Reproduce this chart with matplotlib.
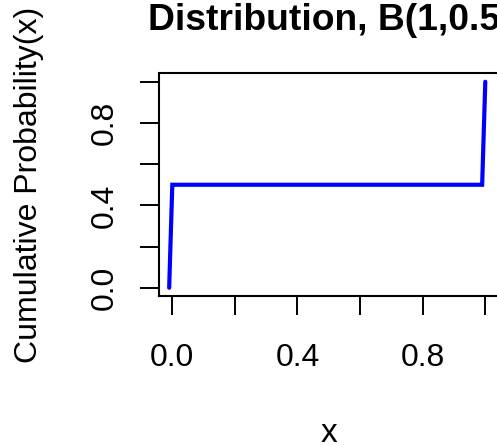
import matplotlib
matplotlib.use("Agg")
import matplotlib.pyplot as plt

x = [-0.01, 0.0, 0.99, 1.0]
y = [0.0, 0.5, 0.5, 1.0]
xticks = [0.0, 0.2, 0.4, 0.6, 0.8, 1.0]
xticklabels = ["0.0", "", "0.4", "", "0.8", ""]
yticks = [0.0, 0.2, 0.4, 0.6, 0.8, 1.0]
yticklabels = ["0.0", "", "0.4", "", "0.8", ""]
title = "Distribution, B(1,0.5)"
xlabel = "x"
ylabel = "Cumulative Probability(x)"

plt.rcParams['font.family'] = ['Liberation Sans', 'DejaVu Sans']
W, H = 497, 445
PT = 72 / 100  # points per pixel
fig = plt.figure(figsize=(W/100, H/100), dpi=100)
l, r, t, b = 159, 498, 73.5, 296
ax = fig.add_axes([l/W, 1-b/H, (r-l)/W, (b-t)/H])
ax.plot(x, y, color='#0000ff', lw=3, solid_capstyle='round', solid_joinstyle='miter')
ax.set_xlim(-0.0425, 1.0406)
ax.set_ylim(-0.04, 1.04)
ticklen = 19 * PT
ax.set_xticks(xticks)
ax.set_xticklabels(xticklabels, fontsize=23, va='baseline')
ax.set_yticks(yticks)
ax.set_yticklabels(yticklabels, fontsize=23, rotation=90, va='center', ha='right')
ax.tick_params(length=ticklen, width=1.4)
ax.tick_params(axis='x', pad=(366 - 315) * PT)
ax.tick_params(axis='y', pad=20 * PT)
for s in ax.spines.values():
    s.set_linewidth(1.5)
fig.text(147.5/W, 1-30/H, title, fontsize=26.8, fontweight='bold', ha='left', va='baseline')
fig.text(37/W, 1-185/H, ylabel, fontsize=23, rotation=90, rotation_mode='anchor',
         ha='center', va='baseline')
fig.text(329/W, 1-442/H, xlabel, fontsize=24, ha='center', va='baseline')
fig.savefig("out.png", dpi=100)
